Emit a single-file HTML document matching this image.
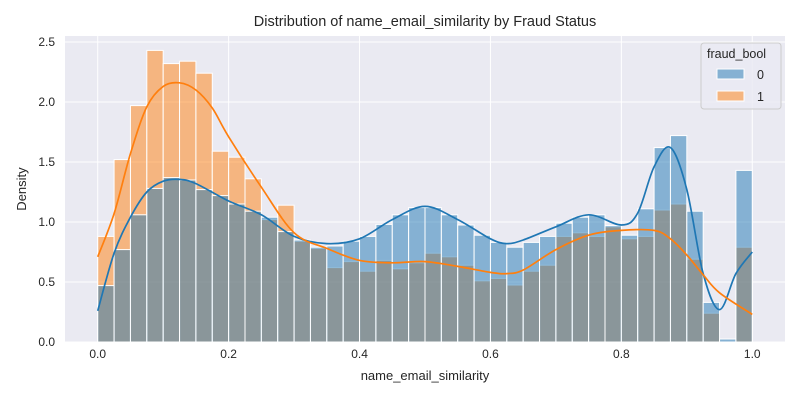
<!DOCTYPE html>
<html><head><meta charset="utf-8"><style>
body{margin:0;background:#fff;font-family:"Liberation Sans",sans-serif}
svg text{font-family:"Liberation Sans",sans-serif;fill:#262626}
</style></head><body>
<svg id="c" width="800" height="400" xmlns="http://www.w3.org/2000/svg"></svg>
<script>
const binStarts=[0,0.025,0.05,0.075,0.1,0.125,0.15,0.175,0.2,0.225,0.25,0.275,0.3,0.325,0.35,0.375,0.4,0.425,0.45,0.475,0.5,0.525,0.55,0.575,0.6,0.625,0.65,0.675,0.7,0.725,0.75,0.775,0.8,0.825,0.85,0.875,0.9,0.925,0.95,0.975];
const legit=[0.47,0.77,1.06,1.28,1.37,1.35,1.27,1.22,1.15,1.09,1.04,0.92,0.85,0.79,0.80,0.84,0.88,0.98,1.06,1.12,1.12,1.06,0.975,0.89,0.83,0.79,0.83,0.88,0.99,1.04,1.06,0.97,0.89,1.11,1.62,1.72,1.09,0.33,0.025,1.43];
const fraud=[0.88,1.52,1.97,2.43,2.32,2.34,2.24,1.59,1.54,1.36,1.02,1.14,0.84,0.78,0.62,0.67,0.59,0.68,0.61,0.66,0.74,0.71,0.64,0.51,0.53,0.475,0.59,0.64,0.88,0.91,0.88,0.96,0.86,0.88,1.10,1.15,0.69,0.24,0,0.79];
const kdeLegitX=[0,0.025,0.05,0.075,0.1,0.125,0.15,0.2,0.25,0.3,0.35,0.4,0.45,0.5,0.55,0.6,0.625,0.65,0.7,0.75,0.8,0.825,0.85,0.875,0.9,0.925,0.95,0.975,1.0];
const kdeLegitY=[0.26,0.74,1.04,1.25,1.34,1.355,1.32,1.175,1.06,0.88,0.82,0.86,1.02,1.13,1.02,0.86,0.82,0.85,0.96,1.06,0.975,1.075,1.46,1.62,1.27,0.57,0.27,0.57,0.75];
const kdeFraudX=[0,0.025,0.05,0.075,0.1,0.125,0.15,0.175,0.2,0.25,0.3,0.35,0.4,0.45,0.5,0.55,0.6,0.625,0.65,0.7,0.75,0.8,0.85,0.875,0.9,0.925,0.95,1.0];
const kdeFraudY=[0.71,1.07,1.57,1.96,2.13,2.16,2.10,1.95,1.71,1.29,0.91,0.78,0.68,0.66,0.67,0.63,0.58,0.57,0.60,0.77,0.89,0.93,0.93,0.86,0.725,0.56,0.41,0.23];
const xTicks=[0,0.2,0.4,0.6,0.8,1.0];
const xTickLabels=["0.0","0.2","0.4","0.6","0.8","1.0"];
const yTicks=[0,0.5,1,1.5,2,2.5];
const yTickLabels=["0.0","0.5","1.0","1.5","2.0","2.5"];
const binW=0.025;

const L=65,R=785,T=36,B=342;
const xs=v=>L+(v+0.05)/1.1*(R-L);
const ys=v=>B-v/2.55*(B-T);
const svg=document.getElementById('c');
const NS='http://www.w3.org/2000/svg';
function mk(tag,attrs,parent){const e=document.createElementNS(NS,tag);for(const k in attrs)e.setAttribute(k,attrs[k]);(parent||svg).appendChild(e);return e;}

const bg=mk('rect',{x:L,y:T,width:R-L,height:B-T,fill:'#eaeaf2'});


xTicks.forEach((t,i)=>{
  const g=mk('line',{x1:xs(t),x2:xs(t),y1:T,y2:B,stroke:'#fff','stroke-width':1});
  
  
  const tx=mk('text',{x:xs(t),y:B+16,'text-anchor':'middle','font-size':12});
  tx.textContent=xTickLabels[i];
  
  
});
yTicks.forEach((t,i)=>{
  const g=mk('line',{x1:L,x2:R,y1:ys(t),y2:ys(t),stroke:'#fff','stroke-width':1});
  
  
  const tx=mk('text',{x:L-10,y:ys(t)+4,'text-anchor':'end','font-size':12});
  tx.textContent=yTickLabels[i];
  
  
});
function bars(vals,color,name){
  vals.forEach((v,i)=>{
    if(v<=0)return;
    const x0=xs(binStarts[i]),x1=xs(binStarts[i]+binW);
    const r=mk('rect',{x:x0,y:ys(v),width:x1-x0,height:ys(0)-ys(v),fill:color,'fill-opacity':0.5,stroke:'#fff','stroke-width':1});
    
    
  });
}
bars(fraud,'#ff7f0e','bar-fraud-1');
bars(legit,'#1f77b4','bar-fraud-0');
function curve(X,Y,color,name){
  const P=X.map((x,i)=>[xs(x),ys(Y[i])]);
  let d='M'+P[0][0]+','+P[0][1];
  for(let i=0;i<P.length-1;i++){
    const p0=P[Math.max(0,i-1)],p1=P[i],p2=P[i+1],p3=P[Math.min(P.length-1,i+2)];
    const c1=[p1[0]+(p2[0]-p0[0])/6,p1[1]+(p2[1]-p0[1])/6];
    const c2=[p2[0]-(p3[0]-p1[0])/6,p2[1]-(p3[1]-p1[1])/6];
    d+=`C${c1[0]},${c1[1]} ${c2[0]},${c2[1]} ${p2[0]},${p2[1]}`;
  }
  const p=mk('path',{d:d,fill:'none',stroke:color,'stroke-width':1.7});
  
  
}
curve(kdeLegitX,kdeLegitY,'#1f77b4','kde-line-0');
curve(kdeFraudX,kdeFraudY,'#ff7f0e','kde-line-1');

const title=mk('text',{x:425,y:26,'text-anchor':'middle','font-size':14.5});
title.textContent='Distribution of name_email_similarity by Fraud Status';


const xl=mk('text',{x:425,y:380,'text-anchor':'middle','font-size':13});
xl.textContent='name_email_similarity';


const yl=mk('text',{x:26,y:189,'text-anchor':'middle','font-size':13,transform:'rotate(-90 26 189)'});
yl.textContent='Density';



const lg=mk('g',{});


mk('rect',{x:701,y:43,width:80,height:66,rx:3,fill:'#eaeaf2','fill-opacity':0.8,stroke:'#ccc'},lg);
const lt=mk('text',{x:707,y:58,'font-size':12.5},lg);
lt.textContent='fraud_bool';


[['0','#1f77b4'],['1','#ff7f0e']].forEach((e,i)=>{
  const y=73+i*22;
  const sw=mk('rect',{x:717,y:y-4,width:27,height:10,fill:e[1],'fill-opacity':0.5,stroke:'#fff'},lg);
  
  
  const t=mk('text',{x:757,y:y+6,'font-size':12.5},lg);
  t.textContent=e[0];
  
  
});
</script>
</body></html>
